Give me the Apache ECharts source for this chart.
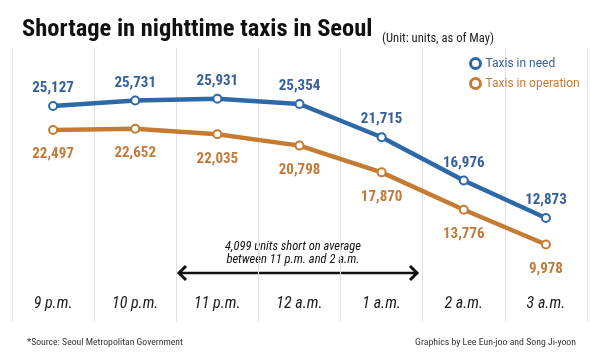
<!DOCTYPE html>
<html>
<head>
<meta charset="utf-8">
<script src="https://cdn.jsdelivr.net/npm/echarts@6/dist/echarts.min.js"></script>
<style>html,body{margin:0;padding:0;background:#fff}#c{width:600px;height:360px}</style>
</head>
<body>
<div id="c"></div>
<script>
var categories = ['9 p.m.', '10 p.m.', '11 p.m.', '12 a.m.', '1 a.m.', '2 a.m.', '3 a.m.'];
var taxisInNeed = [25127, 25731, 25931, 25354, 21715, 16976, 12873];
var taxisInOperation = [22497, 22652, 22035, 20798, 17870, 13776, 9978];
var seriesNames = ['Taxis in need', 'Taxis in operation'];

var BLUE = '#2d69a9', BLUE_T = '#36609a';
var ORANGE = '#c67b33', ORANGE_T = '#c27a3a';
var NARROW = '"Roboto Condensed", "DejaVu Sans Condensed", sans-serif';

var chart = echarts.init(document.getElementById('c'), null, {renderer: 'canvas'});
function fmt(p) { return Number(p.value).toLocaleString('en-US'); }

chart.setOption({
  animation: false,
  backgroundColor: '#fff',
  title: [
    {text: 'Shortage in nighttime taxis in Seoul', left: 17, top: 12,
     textStyle: {fontFamily: NARROW, fontWeight: 'bold', fontSize: 24.5, color: '#111'}},
    {text: '(Unit: units, as of May)', left: 377, top: 27,
     textStyle: {fontFamily: NARROW, fontWeight: 'normal', fontSize: 12.6, color: '#222'}}
  ],
  legend: {
    orient: 'vertical', left: 464, top: 52, itemGap: 7,
    itemWidth: 10, itemHeight: 10, icon: 'circle',
    textStyle: {fontFamily: 'Roboto, sans-serif', fontSize: 12},
    data: [
      {name: seriesNames[0], itemStyle: {color: '#fff', borderColor: BLUE, borderWidth: 3}, textStyle: {color: BLUE_T}},
      {name: seriesNames[1], itemStyle: {color: '#fff', borderColor: ORANGE, borderWidth: 3}, textStyle: {color: ORANGE_T}}
    ]
  },
  grid: [
    {left: 12, right: 13, top: 61.5, bottom: 24.3},
    {left: 12, right: 13, top: 48, bottom: 38}
  ],
  xAxis: [
    {type: 'category', gridIndex: 0, data: categories, boundaryGap: true, show: false},
    {type: 'category', gridIndex: 1, data: categories, boundaryGap: true,
     axisLine: {show: false}, axisTick: {show: false},
     splitLine: {show: true, interval: 0, lineStyle: {color: '#e0e0e0', width: 1}},
     axisLabel: {inside: true, margin: 10, interval: 0, fontStyle: 'italic', fontSize: 16,
                 fontFamily: NARROW, color: '#1a1a1a'}}
  ],
  yAxis: [
    {type: 'value', gridIndex: 0, min: 0, max: 30000, show: false},
    {type: 'value', gridIndex: 1, show: false}
  ],
  series: [
    {name: seriesNames[0], type: 'line', xAxisIndex: 0, yAxisIndex: 0, data: taxisInNeed,
     symbol: 'circle', symbolSize: 8, z: 3,
     lineStyle: {color: BLUE, width: 4.5},
     itemStyle: {color: '#fff', borderColor: BLUE, borderWidth: 2},
     label: {show: true, position: 'top', distance: 5, formatter: fmt,
             fontFamily: NARROW, fontWeight: 'bold', fontSize: 15, color: BLUE_T}},
    {name: seriesNames[1], type: 'line', xAxisIndex: 0, yAxisIndex: 0, data: taxisInOperation,
     symbol: 'circle', symbolSize: 8, z: 2,
     lineStyle: {color: ORANGE, width: 4.5},
     itemStyle: {color: '#fff', borderColor: ORANGE, borderWidth: 2},
     label: {show: true, position: 'bottom', distance: 12, formatter: fmt,
             fontFamily: NARROW, fontWeight: 'bold', fontSize: 15, color: ORANGE_T}}
  ],
  graphic: [
    {type: 'text', silent: true,
     style: {text: '4,099 units short on average\nbetween 11 p.m. and 2 a.m.', x: 293, y: 253,
             textAlign: 'center', textVerticalAlign: 'middle', lineHeight: 13,
             font: 'italic 12.5px ' + NARROW, fill: '#111'}},
    {type: 'line', silent: true, shape: {x1: 180, y1: 273, x2: 416, y2: 273},
     style: {stroke: '#111', lineWidth: 2.5}},
    {type: 'polyline', silent: true, shape: {points: [[186, 266], [179, 273], [186, 280]]},
     style: {stroke: '#111', lineWidth: 3, fill: null}},
    {type: 'polyline', silent: true, shape: {points: [[410, 266], [417, 273], [410, 280]]},
     style: {stroke: '#111', lineWidth: 3, fill: null}},
    {type: 'text', silent: true,
     style: {text: '*Source: Seoul Metropolitan Government', x: 27, y: 343, textVerticalAlign: 'middle',
             font: '9.7px ' + NARROW, fill: '#333'}},
    {type: 'text', silent: true,
     style: {text: 'Graphics by Lee Eun-joo and Song Ji-yoon', x: 576, y: 343, textAlign: 'right', textVerticalAlign: 'middle',
             font: '9.8px ' + NARROW, fill: '#333'}}
  ]
});
</script>
</body>
</html>
